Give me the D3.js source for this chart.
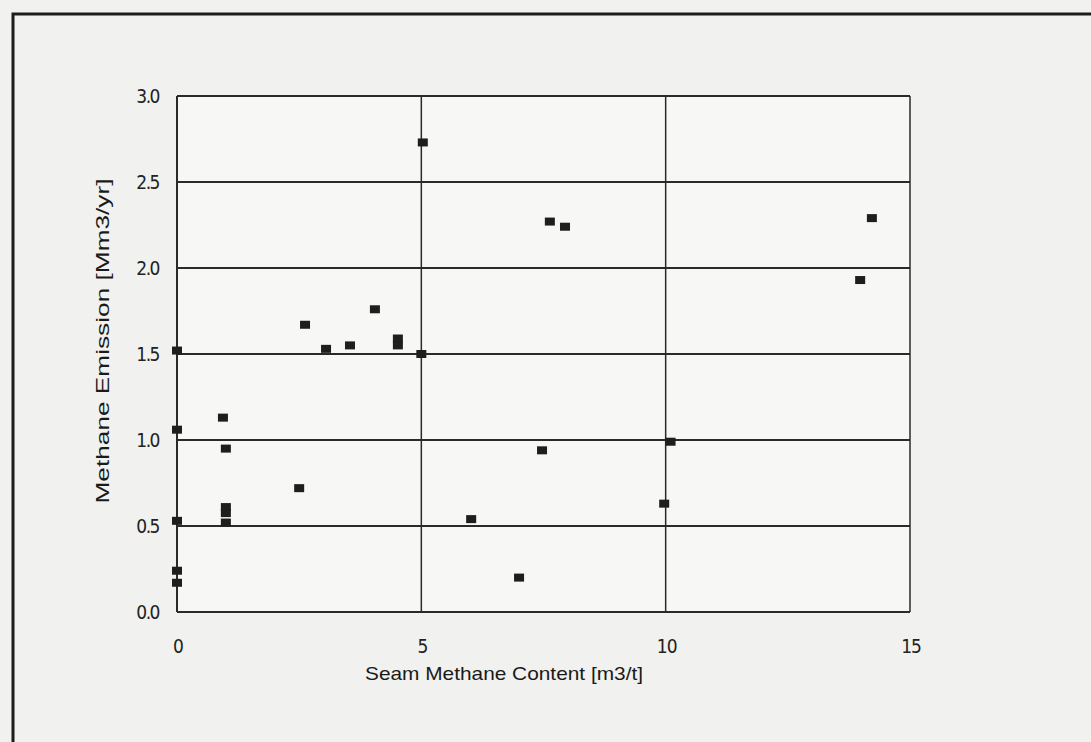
<!DOCTYPE html>
<html>
<head>
<meta charset="utf-8">
<script src="https://cdn.jsdelivr.net/npm/d3@7"></script>
<style>
  body { margin: 0; background: #f1f1ef; }
  svg { display: block; }
</style>
</head>
<body>
<svg id="chart"></svg>
<script>
// seam methane content (m3/t)
const seamContent = [0, 0, 0, 0, 0, 0.94, 1.0, 1.0, 1.0, 1.0, 2.5, 2.62, 3.05, 3.54, 4.05,
  4.52, 4.52, 5.03, 5.0, 6.02, 7.0, 7.47, 7.63, 7.94, 10.1, 9.97, 13.98, 14.22];
// methane emission (Mm3/yr)
const emission = [1.52, 1.06, 0.53, 0.24, 0.17, 1.13, 0.95, 0.61, 0.575, 0.52, 0.72, 1.67, 1.53, 1.55, 1.76,
  1.59, 1.55, 2.73, 1.50, 0.54, 0.20, 0.94, 2.27, 2.24, 0.99, 0.63, 1.93, 2.29];
const xTicks = [0, 5, 10, 15];
const yTicks = [0, 0.5, 1.0, 1.5, 2.0, 2.5, 3.0];

const width = 1091, height = 742;
const margin = {top: 96, right: 181, bottom: 130, left: 177};

const svg = d3.select("#chart").attr("width", width).attr("height", height);

// scanned page frame
svg.append("rect").attr("width", width).attr("height", height).attr("fill", "#f1f1ef");
svg.append("path")
  .attr("d", "M13,742 L13,14 L1091,14")
  .attr("fill", "none").attr("stroke", "#1c1c1c").attr("stroke-width", 3);

const x = d3.scaleLinear().domain([0, 15]).range([margin.left, width - margin.right]);
const y = d3.scaleLinear().domain([0, 3]).range([height - margin.bottom, margin.top]);

svg.append("rect")
  .attr("x", x(0)).attr("y", y(3))
  .attr("width", x(15) - x(0)).attr("height", y(0) - y(3))
  .attr("fill", "#f7f7f5");

// grid
svg.append("g").selectAll("line").data(yTicks).join("line")
  .attr("x1", x(0)).attr("x2", x(15))
  .attr("y1", d => y(d)).attr("y2", d => y(d))
  .attr("stroke", "#2a2a2a").attr("stroke-width", 2);
svg.append("g").selectAll("line").data(xTicks).join("line")
  .attr("x1", d => x(d)).attr("x2", d => x(d))
  .attr("y1", y(0)).attr("y2", y(3))
  .attr("stroke", "#2a2a2a").attr("stroke-width", d => (d === 0 ? 2 : 1.5));

const tickFont = "'DejaVu Sans Condensed', sans-serif";

svg.append("g").selectAll("text").data(yTicks).join("text")
  .attr("x", x(0) - 18).attr("y", d => y(d) + 7)
  .attr("text-anchor", "end")
  .attr("font-family", tickFont).attr("font-size", 19).attr("fill", "#222")
  .attr("letter-spacing", -1.5)
  .text(d => d.toFixed(1));

svg.append("g").selectAll("text").data(xTicks).join("text")
  .attr("x", d => x(d) + 1).attr("y", y(0) + 41)
  .attr("text-anchor", "middle")
  .attr("font-family", tickFont).attr("font-size", 19).attr("fill", "#222")
  .attr("letter-spacing", -1)
  .text(d => d);

svg.append("text")
  .attr("x", 504).attr("y", 680)
  .attr("text-anchor", "middle")
  .attr("font-family", "'Liberation Sans', Arial, sans-serif").attr("font-size", 19).attr("fill", "#1a1a1a")
  .attr("textLength", 278).attr("lengthAdjust", "spacingAndGlyphs")
  .text("Seam Methane Content [m3/t]");

svg.append("text")
  .attr("transform", "translate(109,341) rotate(-90)")
  .attr("text-anchor", "middle")
  .attr("font-family", "'Liberation Sans', Arial, sans-serif").attr("font-size", 19).attr("fill", "#1a1a1a")
  .attr("textLength", 325).attr("lengthAdjust", "spacingAndGlyphs")
  .text("Methane Emission [Mm3/yr]");

// points
svg.append("g").selectAll("rect").data(d3.range(seamContent.length)).join("rect")
  .attr("x", i => x(seamContent[i]) - 5)
  .attr("y", i => y(emission[i]) - 4)
  .attr("width", 10).attr("height", 8)
  .attr("fill", "#1e1e1e");
</script>
</body>
</html>
